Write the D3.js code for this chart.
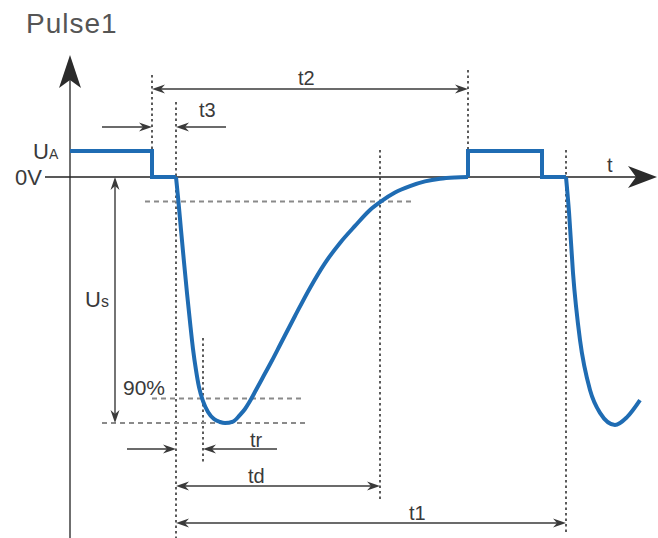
<!DOCTYPE html>
<html>
<head>
<meta charset="utf-8">
<script src="https://cdn.jsdelivr.net/npm/d3@7"></script>
<style>
  body { margin: 0; background: #fff; }
  text { font-family: "Liberation Sans", Arial, sans-serif; fill: #3a3a3a; }
</style>
</head>
<body>
<div id="chart"></div>
<script>
/*
PULSE 1 WAVEFORM (ISO 7637 style test pulse)
*/

// time axis is in arbitrary units, voltage in % of Us
const stepTimes1 = [0, 16.4, 16.4, 21.2];
const stepVolts1 = [10.6, 10.6, 0, 0];

const pulseTimes1 = [21.2, 21.6, 22.2, 22.8, 23.4, 24, 24.6, 25.2, 25.8, 26.6, 27.6, 28.8, 30, 31, 32.6, 34, 35, 36, 37.2, 38.4,
  40.4, 42, 45, 48, 51, 54, 57, 60, 62, 65, 68, 71, 74, 77, 79.6];
const pulseVolts1 = [0, -8.1, -21.5, -34.6, -47.2, -58.9, -69.9, -78.5, -85.4, -91.1, -95.5, -98.4, -99.6, -100, -99.4, -96.7, -94.3, -91.1, -86.6, -82.1,
  -74.6, -68.3, -56.5, -45.1, -35.0, -26.8, -19.9, -13.4, -10.2, -6.3, -3.7, -1.8, -0.7, -0.2, 0];

const stepTimes2 = [79.6, 79.6, 94.4, 94.4, 99.2];
const stepVolts2 = [0, 10.6, 10.6, 0, 0];

const pulseTimes2 = [99.2, 99.8, 100.6, 102, 104, 106, 109, 111.4, 114];
const pulseVolts2 = [0, -14.2, -39.0, -66.3, -86.6, -95.9, -100.8, -97.6, -90.7];

// markers on the time axis
const tStart = 16.4;   // end of UA
const tFall = 21.2;    // start of pulse
const tRise = 26.6;    // 90 % reached
const tDecay = 62;     // back to 10 %
const tNext = 79.6;    // end of t2
const tRepeat = 99.2;  // next pulse

// voltage levels
const levelUA = 10.6;
const level10 = -10;
const level90 = -90;
const levelUs = -100;

const width = 658;
const height = 538;

const svg = d3.select("#chart")
  .append("svg")
  .attr("width", width)
  .attr("height", height);

const x = d3.scaleLinear().domain([0, 114]).range([70, 640]);
const y = d3.scaleLinear().domain([-100, 0]).range([423, 177]);

const zipPts = (ts, vs) => ts.map((t, i) => [t, vs[i]]);

// ---- axes ----
const axisColor = "#6f6f6f";
svg.append("line")
  .attr("x1", x(0)).attr("x2", x(0))
  .attr("y1", height).attr("y2", 70)
  .attr("stroke", axisColor).attr("stroke-width", 2);

svg.append("path")
  .attr("d", `M${x(0)},55 L${x(0) + 11},88 L${x(0)},80 L${x(0) - 11},88 Z`)
  .attr("fill", "#2b2b2b");

svg.append("line")
  .attr("x1", 45).attr("x2", 640)
  .attr("y1", y(0)).attr("y2", y(0))
  .attr("stroke", "#222").attr("stroke-width", 1.5);

svg.append("path")
  .attr("d", `M657,${y(0)} L628,${y(0) - 11} L636,${y(0)} L628,${y(0) + 11} Z`)
  .attr("fill", "#2b2b2b");

// ---- guide lines ----
const vGuides = [
  { t: tStart, y1: 75, y2: y(0) },
  { t: tFall, y1: 102, y2: 538 },
  { t: tRise, y1: 338, y2: 462 },
  { t: tDecay, y1: 150, y2: 500 },
  { t: tNext, y1: 70, y2: y(levelUA) },
  { t: tRepeat, y1: 150, y2: 534 },
];

svg.selectAll(".vguide")
  .data(vGuides)
  .enter()
  .append("line")
  .attr("class", "vguide")
  .attr("x1", (d) => x(d.t)).attr("x2", (d) => x(d.t))
  .attr("y1", (d) => d.y1).attr("y2", (d) => d.y2)
  .attr("stroke", "#333")
  .attr("stroke-width", 1.6)
  .attr("stroke-dasharray", "2.5,3");

const hGuides = [
  { v: level10, x1: 145, x2: 412 },
  { v: level90, x1: 152, x2: 305 },
  { v: levelUs, x1: 102, x2: 305 },
];

svg.selectAll(".hguide")
  .data(hGuides)
  .enter()
  .append("line")
  .attr("class", "hguide")
  .attr("x1", (d) => d.x1).attr("x2", (d) => d.x2)
  .attr("y1", (d) => y(d.v)).attr("y2", (d) => y(d.v))
  .attr("stroke", "#8a8a8a")
  .attr("stroke-width", 2)
  .attr("stroke-dasharray", "5,4");

// ---- waveform ----
const blue = "#1f6cb3";
const stepLine = d3.line().x((d) => x(d[0])).y((d) => y(d[1]));
const curveLine = d3.line()
  .x((d) => x(d[0])).y((d) => y(d[1]))
  .curve(d3.curveMonotoneX);

[
  [stepLine, zipPts(stepTimes1, stepVolts1)],
  [curveLine, zipPts(pulseTimes1, pulseVolts1)],
  [stepLine, zipPts(stepTimes2, stepVolts2)],
  [curveLine, zipPts(pulseTimes2, pulseVolts2)],
].forEach(([gen, pts]) => {
  svg.append("path")
    .attr("d", gen(pts))
    .attr("fill", "none")
    .attr("stroke", blue)
    .attr("stroke-width", 4)
    .attr("stroke-linejoin", "miter");
});

// ---- dimension arrows ----
const arrowColor = "#3a3a3a";

function arrowHead(px, py, dir) {
  // dir: "l", "r", "u", "d" = direction the tip points
  const L = 13, W = 4.5, N = 9;
  let p;
  if (dir === "r") p = [[px, py], [px - L, py - W], [px - N, py], [px - L, py + W]];
  if (dir === "l") p = [[px, py], [px + L, py - W], [px + N, py], [px + L, py + W]];
  if (dir === "u") p = [[px, py], [px - W, py + L], [px, py + N], [px + W, py + L]];
  if (dir === "d") p = [[px, py], [px - W, py - L], [px, py - N], [px + W, py - L]];
  svg.append("path")
    .attr("d", "M" + p.join("L") + "Z")
    .attr("fill", arrowColor);
}

function hLine(x1, x2, py) {
  svg.append("line")
    .attr("x1", x1).attr("x2", x2)
    .attr("y1", py).attr("y2", py)
    .attr("stroke", arrowColor).attr("stroke-width", 1.4);
}

// span arrows between two times
const spans = [
  { a: tStart, b: tNext, py: 89 },
  { a: tFall, b: tDecay, py: 486 },
  { a: tFall, b: tRepeat, py: 523 },
];
spans.forEach((s) => {
  hLine(x(s.a) + 4, x(s.b) - 4, s.py);
  arrowHead(x(s.a), s.py, "l");
  arrowHead(x(s.b), s.py, "r");
});

// outside arrows pointing inwards
const gaps = [
  { a: tStart, b: tFall, py: 127, outL: 102, outR: 226 },
  { a: tFall, b: tRise, py: 449, outL: 127, outR: 277 },
];
gaps.forEach((g) => {
  hLine(g.outL, x(g.a) - 4, g.py);
  arrowHead(x(g.a), g.py, "r");
  hLine(x(g.b) + 4, g.outR, g.py);
  arrowHead(x(g.b), g.py, "l");
});

// Us vertical arrow
const usX = 115;
svg.append("line")
  .attr("x1", usX).attr("x2", usX)
  .attr("y1", y(0) + 4).attr("y2", y(levelUs) - 4)
  .attr("stroke", arrowColor).attr("stroke-width", 1.4);
arrowHead(usX, y(0), "u");
arrowHead(usX, y(levelUs), "d");

// ---- labels ----
svg.append("text").text("Pulse1")
  .attr("x", 26).attr("y", 33)
  .attr("font-size", 28).attr("letter-spacing", 1)
  .style("fill", "#555");

const ua = svg.append("text").attr("x", 33).attr("y", y(levelUA) + 8).attr("font-size", 22);
ua.append("tspan").text("U");
ua.append("tspan").text("A").attr("font-size", 14);

svg.append("text").text("0V")
  .attr("x", 15).attr("y", y(0) + 8).attr("font-size", 22);

const us = svg.append("text").attr("x", 85).attr("y", 307).attr("font-size", 22);
us.append("tspan").text("U");
us.append("tspan").text("s").attr("font-size", 16);

svg.append("text").text("90%")
  .attr("x", 123).attr("y", 395).attr("font-size", 21);

const tLabels = [
  { text: "t2", px: 298, py: 85 },
  { text: "t3", px: 199, py: 117 },
  { text: "tr", px: 250, py: 447 },
  { text: "td", px: 248, py: 483 },
  { text: "t1", px: 409, py: 520 },
  { text: "t", px: 607, py: 172 },
];
svg.selectAll(".tlabel")
  .data(tLabels)
  .enter()
  .append("text")
  .attr("class", "tlabel")
  .text((d) => d.text)
  .attr("x", (d) => d.px)
  .attr("y", (d) => d.py)
  .attr("font-size", 20);
</script>
</body>
</html>
